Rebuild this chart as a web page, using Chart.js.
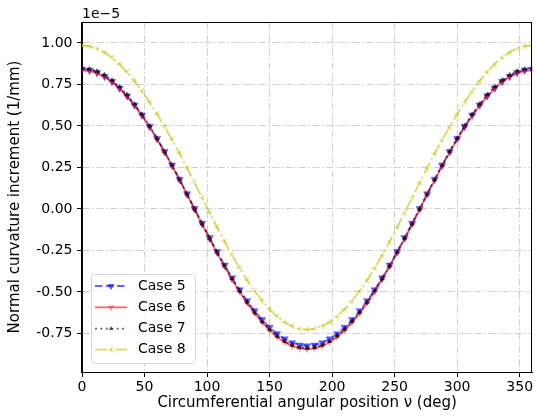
<!DOCTYPE html>
<html>
<head>
<meta charset="utf-8">
<script src="https://cdn.jsdelivr.net/npm/chart.js@4.4.1/dist/chart.umd.min.js"></script>
<style>
  html, body { margin: 0; padding: 0; background: #fff; }
  canvas { display: block; }
</style>
</head>
<body>
<canvas id="chart" width="538" height="417"></canvas>
<script>
// angular positions (deg)
const angles = [0, 6, 12, 18, 24, 30, 36, 42, 48, 54, 60, 66, 72, 78, 84, 90, 96, 102, 108, 114, 120,
  126, 132, 138, 144, 150, 156, 162, 168, 174, 180, 186, 192, 198, 204, 210, 216, 222, 228, 234, 240,
  246, 252, 258, 264, 270, 276, 282, 288, 294, 300, 306, 312, 318, 324, 330, 336, 342, 348, 354, 360];

// curvature increment, in units of 1e-5 1/mm
const case5 = [0.842, 0.836, 0.822, 0.799, 0.768, 0.728, 0.681, 0.626, 0.565, 0.497, 0.424, 0.346, 0.264, 0.179, 0.091,
  0.002, -0.086, -0.173, -0.257, -0.338, -0.415, -0.487, -0.553, -0.613, -0.667, -0.713, -0.752, -0.783, -0.806, -0.820, -0.825,
  -0.820, -0.806, -0.783, -0.752, -0.713, -0.667, -0.613, -0.553, -0.487, -0.415, -0.338, -0.257, -0.173, -0.086, 0.002,
  0.091, 0.179, 0.264, 0.346, 0.424, 0.497, 0.565, 0.626, 0.681, 0.728, 0.768, 0.799, 0.822, 0.836, 0.842];
const case6 = [0.835, 0.830, 0.818, 0.795, 0.765, 0.725, 0.678, 0.623, 0.561, 0.493, 0.419, 0.341, 0.259, 0.174, 0.086,
  -0.004, -0.092, -0.180, -0.265, -0.347, -0.425, -0.498, -0.566, -0.628, -0.683, -0.731, -0.771, -0.803, -0.826, -0.840, -0.845,
  -0.840, -0.826, -0.803, -0.771, -0.731, -0.683, -0.628, -0.566, -0.498, -0.425, -0.347, -0.265, -0.180, -0.092, -0.004,
  0.086, 0.174, 0.259, 0.341, 0.419, 0.493, 0.561, 0.623, 0.678, 0.725, 0.765, 0.795, 0.818, 0.830, 0.835];
const case7 = [0.848, 0.843, 0.830, 0.807, 0.776, 0.736, 0.688, 0.632, 0.570, 0.500, 0.425, 0.346, 0.263, 0.177, 0.089,
  0.000, -0.089, -0.176, -0.261, -0.343, -0.420, -0.493, -0.561, -0.623, -0.678, -0.726, -0.766, -0.797, -0.820, -0.834, -0.838,
  -0.834, -0.820, -0.797, -0.766, -0.726, -0.678, -0.623, -0.561, -0.493, -0.420, -0.343, -0.261, -0.176, -0.089, 0.000,
  0.089, 0.177, 0.263, 0.346, 0.425, 0.500, 0.570, 0.632, 0.688, 0.736, 0.776, 0.807, 0.830, 0.843, 0.848];
const case8 = [0.985, 0.980, 0.966, 0.943, 0.912, 0.872, 0.825, 0.771, 0.710, 0.643, 0.572, 0.496, 0.418, 0.334, 0.247,
  0.158, 0.068, -0.022, -0.110, -0.196, -0.279, -0.356, -0.429, -0.494, -0.553, -0.604, -0.647, -0.682, -0.706, -0.722, -0.727,
  -0.722, -0.706, -0.682, -0.647, -0.604, -0.553, -0.494, -0.429, -0.356, -0.279, -0.196, -0.110, -0.022, 0.068, 0.158,
  0.247, 0.334, 0.418, 0.496, 0.572, 0.643, 0.710, 0.771, 0.825, 0.872, 0.912, 0.943, 0.966, 0.980, 0.985];

const xTicks = [0, 50, 100, 150, 200, 250, 300, 350];
const yTicks = [-0.75, -0.50, -0.25, 0.00, 0.25, 0.50, 0.75, 1.00];

const FONT = 'DejaVu Sans';
const BLUE = 'rgba(0,0,255,0.6)';
const RED = 'rgba(255,0,0,0.6)';
const BLACK = 'rgba(0,0,0,0.6)';
const YELLOW = 'rgba(191,191,0,0.6)';

// little "tri" markers like matplotlib '1' and '3'
function triMarker(dirs, len, color) {
  const c = document.createElement('canvas');
  const s = Math.ceil(len * 2 + 3);
  c.width = s; c.height = s;
  const g = c.getContext('2d');
  g.strokeStyle = color;
  g.lineWidth = 1.2;
  g.beginPath();
  dirs.forEach(a => {
    const r = a * Math.PI / 180;
    g.moveTo(s / 2, s / 2);
    g.lineTo(s / 2 + len * Math.cos(r), s / 2 + len * Math.sin(r));
  });
  g.stroke();
  return c;
}
const triDown = triMarker([90, 210, 330], 3.2, RED);
const triLeft = triMarker([180, 60, 300], 3.2, YELLOW);

function pts(ys) {
  return angles.map((a, i) => ({ x: a, y: ys[i] }));
}

const datasets = [
  { label: 'Case 5', data: pts(case5), borderColor: BLUE, backgroundColor: BLUE, borderWidth: 1.8,
    borderDash: [7.5, 3.5], pointStyle: 'triangle', rotation: 180, pointRadius: 4.2, pointBorderWidth: 0.5, order: 4 },
  { label: 'Case 6', data: pts(case6), borderColor: RED, backgroundColor: RED, borderWidth: 1.8,
    pointStyle: triDown, order: 3 },
  { label: 'Case 7', data: pts(case7), borderColor: BLACK, backgroundColor: BLACK, borderWidth: 1.8,
    borderDash: [2, 3.4], pointStyle: 'triangle', pointRadius: 2.6, pointBorderWidth: 0.5, order: 2 },
  { label: 'Case 8', data: pts(case8), borderColor: YELLOW, backgroundColor: YELLOW, borderWidth: 1.8,
    borderDash: [12, 3.3, 2, 3.3], pointStyle: triLeft, order: 1 }
];

function tri(ctx, x, y, r, rot, fill) {
  ctx.save();
  ctx.translate(x, y);
  ctx.rotate(rot * Math.PI / 180);
  ctx.beginPath();
  ctx.moveTo(0, -r);
  ctx.lineTo(r * 0.866, r * 0.5);
  ctx.lineTo(-r * 0.866, r * 0.5);
  ctx.closePath();
  ctx.fillStyle = fill;
  ctx.fill();
  ctx.restore();
}

// frame, offset text and matplotlib-like legend
const extras = {
  id: 'extras',
  afterDraw(chart) {
    const { ctx, chartArea: a } = chart;
    ctx.save();
    ctx.strokeStyle = '#000';
    ctx.lineWidth = 1;
    ctx.strokeRect(Math.round(a.left) - 0.5, Math.round(a.top) + 0.5, Math.round(a.right - a.left), Math.round(a.bottom - a.top));

    ctx.fillStyle = '#000';
    ctx.font = '14px ' + FONT;
    ctx.textAlign = 'left';
    ctx.textBaseline = 'alphabetic';
    ctx.fillText('1e\u22125', 82, 18);

    // legend box
    const bx = 91.5, by = 274.5, bw = 104, bh = 89, rad = 3;
    ctx.beginPath();
    ctx.moveTo(bx + rad, by);
    ctx.arcTo(bx + bw, by, bx + bw, by + bh, rad);
    ctx.arcTo(bx + bw, by + bh, bx, by + bh, rad);
    ctx.arcTo(bx, by + bh, bx, by, rad);
    ctx.arcTo(bx, by, bx + bw, by, rad);
    ctx.closePath();
    ctx.fillStyle = 'rgba(255,255,255,0.8)';
    ctx.fill();
    ctx.strokeStyle = '#d6d6d6';
    ctx.stroke();

    const rows = [286, 307.3, 328.6, 349.6];
    datasets.forEach((d, i) => {
      const y = rows[i];
      ctx.save();
      ctx.strokeStyle = d.borderColor;
      ctx.lineWidth = d.borderWidth;
      ctx.setLineDash(d.borderDash || []);
      ctx.beginPath();
      ctx.moveTo(95, y);
      ctx.lineTo(127, y);
      ctx.stroke();
      ctx.restore();
      if (d.pointStyle === 'triangle') {
        tri(ctx, 111, y, d.pointRadius, d.rotation || 0, d.backgroundColor);
      } else {
        ctx.drawImage(d.pointStyle, 111 - d.pointStyle.width / 2, y - d.pointStyle.height / 2);
      }
      ctx.fillStyle = '#000';
      ctx.font = '14px ' + FONT;
      ctx.textBaseline = 'middle';
      ctx.fillText(d.label, 138, y);
    });
    ctx.restore();
  }
};

function keepTicks(list) {
  return scale => {
    scale.ticks = list.map(v => ({ value: v }));
  };
}

const config = {
  type: 'line',
  data: { datasets: datasets },
  options: {
    responsive: false,
    animation: false,
    clip: 0,
    layout: { padding: { top: 22, right: 1, left: 0, bottom: 0 } },
    plugins: { legend: { display: false }, tooltip: { enabled: false } },
    elements: { line: { tension: 0 } },
    scales: {
      x: {
        type: 'linear',
        min: 0,
        max: 360,
        afterBuildTicks: keepTicks(xTicks),
        afterFit: s => { s.height = 45; },
        grid: { color: '#cfcfcf', lineWidth: 1, tickLength: 5, tickColor: '#000' },
        border: { color: '#000', dash: [7, 2.5, 1.5, 2.5] },
        ticks: { color: '#000', padding: 2, maxRotation: 0, font: { family: FONT, size: 14 },
          callback: v => String(v) },
        title: { display: true, text: 'Circumferential angular position \u03bd (deg)', color: '#000',
          font: { family: FONT, size: 15 }, padding: { top: 0, bottom: 4.5 } }
      },
      y: {
        type: 'linear',
        min: -0.982,
        max: 1.126,
        afterBuildTicks: keepTicks(yTicks),
        afterFit: s => { s.width = 82; },
        grid: { color: '#cfcfcf', lineWidth: 1, tickLength: 5, tickColor: '#000' },
        border: { color: '#000', dash: [7, 2.5, 1.5, 2.5] },
        ticks: { color: '#000', padding: 4.5, font: { family: FONT, size: 14 },
          callback: v => v.toFixed(2) },
        title: { display: true, text: 'Normal curvature increment (1/mm)', color: '#000',
          font: { family: FONT, size: 15 }, padding: { top: 6.5, bottom: 0 } }
      }
    }
  },
  plugins: [extras]
};

const chart = new Chart(document.getElementById('chart'), config);
</script>
</body>
</html>
